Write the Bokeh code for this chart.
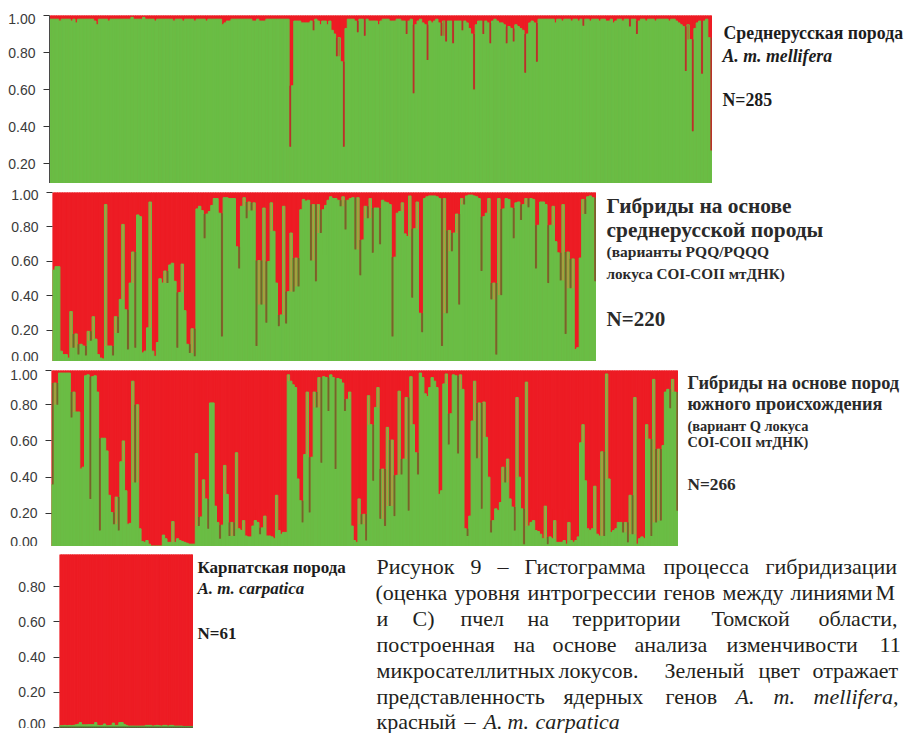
from bokeh.plotting import figure
from bokeh.layouts import column, row
from bokeh.models import Range1d, FixedTicker, NumeralTickFormatter, Span
from bokeh.core.properties import value
from bokeh.embed import file_html
from bokeh.resources import INLINE

RED = "#ed1c24"
GREEN = "#6abd45"

# Green (A. m. mellifera) share per individual
mellifera = [
    .98,.98,.98,.98,.97,.98,.98,.98,.98,.97,
    .98,.96,.98,.98,.98,.98,.98,.98,.98,.97,
    .95,.98,.98,.98,.98,.97,.98,.98,.98,.98,
    .98,.98,.98,.98,.98,.99,.98,.98,.98,.98,
    .99,.98,.98,.98,.98,.97,.98,.98,.98,.98,
    .98,.98,.98,.97,.98,.98,.98,.97,.98,.98,
    .98,.98,.97,.98,.98,.98,.98,.97,.98,.98,
    .98,.98,.98,.98,.95,.96,.97,.97,.98,.98,
    .98,.98,.98,.98,.98,.98,.98,.97,.97,.98,
    .97,.97,.97,.98,.98,.98,.98,.98,.98,.98,
    .98,.98,.98,.29,.62,.97,.97,.97,.96,.96,
    .96,.96,.97,.92,.98,.97,.95,.97,.97,.95,
    .97,.92,.90,.78,.88,.75,.29,.93,.98,.98,
    .98,.97,.91,.98,.98,.89,.98,.97,.97,.97,
    .97,.95,.97,.98,.98,.98,.97,.97,.97,.98,
    .98,.97,.97,.90,.97,.98,.58,.95,.97,.98,
    .96,.95,.76,.97,.96,.97,.98,.96,.89,.97,
    .86,.97,.97,.85,.97,.97,.97,.92,.97,.96,
    .93,.90,.60,.95,.97,.97,.90,.97,.96,.85,
    .97,.98,.97,.96,.96,.95,.85,.94,.93,.86,
    .95,.94,.93,.92,.69,.90,.96,.97,.96,.75,
    .98,.98,.98,.98,.98,.98,.98,.96,.98,.98,
    .97,.98,.98,.98,.97,.98,.98,.97,.98,.945,
    .98,.98,.97,.98,.98,.98,.97,.98,.98,.97,
    .97,.98,.96,.97,.98,.98,.97,.98,.98,.94,
    .98,.98,.90,.97,.98,.98,.97,.98,.98,.98,
    .97,.98,.98,.98,.98,.98,.97,.98,.98,.97,
    .96,.95,.94,.70,.95,.87,.375,.93,.96,.97,
    .685,.97,.98,.88,.27,
]

hybrids_central = [
    .55,.57,.57,.08,.06,.06,.04,.31,.10,.18,
    .06,.12,.11,.055,.195,.14,.28,.15,.06,.04,
    .035,.93,.11,.11,.055,.28,.185,.38,.815,.32,
    .09,.475,.655,.10,.87,.86,.07,.08,.215,.945,
    .08,.05,.13,.50,.475,.545,.475,.58,.59,.485,
    .10,.42,.585,.315,.12,.07,.21,.05,.905,.92,
    .895,.735,.875,.89,.925,.965,.965,.88,.165,.97,
    .97,.965,.965,.965,.685,.56,.92,.97,.85,.945,
    .895,.94,.11,.605,.35,.91,.245,.60,.94,.775,
    .475,.225,.29,.92,.24,.425,.765,.425,.62,.455,
    .90,.96,.95,.955,.605,.93,.485,.93,.765,.90,
    .925,.955,.975,.965,.965,.955,.92,.975,.785,.955,
    .965,.97,.67,.97,.52,.725,.92,.85,.965,.65,
    .91,.91,.70,.955,.945,.94,.93,.165,.625,.88,
    .89,.94,.76,.745,.98,.39,.79,.945,.30,.19,
    .965,.975,.98,.98,.98,.975,.965,.11,.965,.30,
    .78,.66,.765,.875,.35,.965,.93,.98,.985,.985,
    .98,.975,.965,.545,.86,.88,.965,.38,.475,.06,
    .965,.405,.905,.965,.96,.91,.735,.94,.945,.84,
    .93,.965,.915,.965,.96,.56,.81,.945,.945,.93,
    .475,.81,.92,.715,.65,.49,.93,.18,.655,.445,
    .615,.09,.10,.62,.96,.875,.975,.98,.97,.485,
]

hybrids_south = [
    .36,.92,.80,.975,.975,.975,.975,.975,.73,.87,
    .76,.76,.445,.455,.96,.965,.28,.955,.96,.87,
    .105,.615,.615,.545,.30,.205,.14,.29,.105,.485,
    .60,.325,.14,.145,.93,.37,.80,.115,.045,.04,
    .05,.03,.02,.02,.02,.02,.02,.08,.06,.04,
    .04,.155,.04,.06,.05,.045,.04,.035,.03,.03,
    .03,.53,.13,.18,.385,.28,.115,.81,.81,.24,
    .15,.06,.135,.465,.305,.075,.15,.075,.535,.115,
    .105,.16,.075,.07,.07,.13,.16,.15,.085,.12,
    .185,.075,.075,.07,.06,.30,.105,.085,.095,.095,
    .965,.93,.91,.895,.39,.27,.15,.525,.87,.205,
    .51,.87,.785,.95,.48,.955,.95,.765,.965,.95,
    .445,.945,.94,.92,.765,.83,.87,.13,.05,.04,
    .28,.14,.195,.05,.85,.69,.38,.785,.895,.17,
    .445,.13,.675,.24,.605,.185,.41,.875,.415,.50,
    .84,.215,.955,.69,.535,.415,.975,.95,.86,.845,
    .895,.95,.93,.895,.305,.325,.915,.97,.58,.75,
    .965,.96,.53,.965,.885,.115,.075,.185,.71,.93,
    .505,.81,.225,.815,.62,.40,.095,.16,.225,.215,
    .26,.455,.37,.50,.28,.235,.105,.84,.40,.225,
    .03,.925,.13,.15,.16,.105,.10,.085,.06,.24,
    .03,.07,.06,.16,.04,.04,.04,.05,.03,.15,
    .05,.04,.05,.07,.59,.69,.38,.115,.105,.115,
    .35,.085,.075,.54,.075,.97,.39,.095,.105,.115,
    .15,.15,.095,.15,.04,.30,.085,.84,.03,.06,
    .07,.06,.69,.61,.075,.94,.15,.555,.16,.575,
    .87,.885,.78,.94,.87,.215,
]

carpatica = [
    .01,.01,.012,.01,.012,.01,.012,.015,.018,.028,
    .015,.015,.015,.016,.016,.016,.028,.012,.01,.012,
    .02,.01,.01,.012,.025,.012,.012,.028,.028,.018,
    .012,.008,.008,.008,.008,.008,.008,.008,.008,.012,
    .012,.012,.008,.01,.012,.01,.008,.012,.012,.008,
    .012,.012,.008,.008,.008,.008,.006,.006,.006,.006,.006,
]

ticks_p1 = [0.2, 0.4, 0.6, 0.8, 1.0]
ticks_p2 = [0.02, 0.2, 0.4, 0.6, 0.8, 1.0]
ticks_p3 = [0.017, 0.2, 0.4, 0.6, 0.8, 0.989]
ticks_p4 = [0.0, 0.2, 0.4, 0.6, 0.8]
cut_labels = {0.02: "0.00", 0.017: "0.00", 0.989: "1.00"}


def panel(values, page_x, page_top, canvas_top, canvas_bottom, frame_bottom,
          vtop, vbot, ticks, spike_low, spike_high, axis_color=None):
    n = len(values)
    p = figure(width=page_x[1], height=canvas_bottom - canvas_top,
               output_backend="svg", toolbar_location=None,
               x_range=Range1d(0, n), y_range=Range1d(vbot, vtop),
               min_border_left=page_x[0], min_border_right=0,
               min_border_top=page_top - canvas_top,
               min_border_bottom=canvas_bottom - frame_bottom,
               outline_line_color=None, frame_align=False)
    p.grid.visible = False
    p.xaxis.visible = False
    ax = p.yaxis[0]
    ax.ticker = FixedTicker(ticks=ticks)
    ax.formatter = NumeralTickFormatter(format="0.00")
    ax.major_label_overrides = {t: cut_labels[t] for t in ticks if t in cut_labels}
    ax.axis_line_color = axis_color
    ax.major_tick_out = 6
    ax.major_tick_in = 0
    ax.minor_tick_out = 0
    ax.minor_tick_in = 0
    ax.major_tick_line_color = "#333333"
    ax.major_tick_line_width = 1
    ax.major_label_standoff = 8
    ax.major_label_text_font = "Liberation Sans"
    ax.major_label_text_font_size = "14px"
    ax.major_label_text_color = "#3a3a3a"

    xs = [i + 0.5 for i in range(n)]
    p.vbar(x=xs, width=1, bottom=0, top=1, fill_color=RED, line_color=RED, line_width=1.2,
           fill_alpha=1, line_alpha=1)
    p.vbar(x=xs, width=1, bottom=0, top=values, fill_color=GREEN, line_color=GREEN, line_width=1.0,
           fill_alpha=1, line_alpha=1)

    # Single-bar spikes look darker in the source through blending of the colours
    low_x, low_b, low_t, high_x, high_b, high_t = [], [], [], [], [], []
    for i, v in enumerate(values):
        left = values[i - 1] if i > 0 else values[i + 1]
        right = values[i + 1] if i < n - 1 else values[i - 1]
        if v < min(left, right) - 0.03:
            low_x.append(xs[i]); low_b.append(v); low_t.append(min(left, right))
        if v > max(left, right) + 0.03:
            high_x.append(xs[i]); high_b.append(max(left, right)); high_t.append(v)
    if low_x:
        p.vbar(x=low_x, width=0.72, bottom=low_b, top=low_t, fill_color=spike_low, line_color=None)
    if high_x:
        p.vbar(x=high_x, width=0.6, bottom=high_b, top=high_t, fill_color=spike_high, line_color=None)
    return p


def text_area(left, top, bottom):
    t = figure(width=905 - left, height=bottom - top, output_backend="svg", toolbar_location=None,
               x_range=Range1d(left, 905), y_range=Range1d(bottom, top),
               x_axis_type=None, y_axis_type=None, min_border=0,
               outline_line_color=None, frame_align=False)
    t.grid.visible = False
    return t


def put(t, px, py, text, size, style="normal", color="#1c1c1c"):
    t.text(x=[px], y=[py], text=[text], text_font=value("Liberation Serif"),
           text_font_size=value(size), text_font_style=style, text_color=color,
           text_baseline="middle", text_align="left")


# Panel 1
p1 = panel(mellifera, (49, 712), 15, 13, 183, 183, 1.0, 0.092, ticks_p1,
           "#b8322a", "#a07a30", "#4a4a4a")
t1 = text_area(712, 13, 183)
put(t1, 723, 32, "Среднерусская порода", "17.8px", "bold")
put(t1, 722, 55, "A. m. mellifera", "17.8px", "bold italic")
put(t1, 722, 99, "N=285", "17.8px", "bold")

# Panel 2
p2 = panel(hybrids_central, (52, 596), 192, 189, 361, 361, 1.0, 0.02, ticks_p2,
           "#75642a", "#b8953c")
t2 = text_area(596, 189, 361)
put(t2, 606, 205, "Гибриды на основе", "21.4px", "bold", "#2a2a2a")
put(t2, 606, 229, "среднерусской породы", "21.4px", "bold", "#2a2a2a")
put(t2, 606, 251, "(варианты PQQ/PQQQ", "15.5px", "bold", "#2a2a2a")
put(t2, 606, 273, "локуса COI-COII мтДНК)", "15.2px", "bold", "#2a2a2a")
put(t2, 606, 318, "N=220", "21px", "bold", "#2a2a2a")

# Panel 3
p3 = panel(hybrids_south, (51, 678), 370, 369, 546, 546, 0.989, 0.017, ticks_p3,
           "#75642a", "#b8953c")
t3 = text_area(678, 369, 546)
put(t3, 687, 382, "Гибриды на основе пород", "18.4px", "bold", "#2a2a2a")
put(t3, 687, 403, "южного происхождения", "18.3px", "bold", "#2a2a2a")
put(t3, 687, 425, "(вариант Q локуса", "14.4px", "bold", "#2a2a2a")
put(t3, 687, 441, "COI-COII мтДНК)", "14.3px", "bold", "#2a2a2a")
put(t3, 687, 484, "N=266", "17.3px", "bold", "#2a2a2a")

# Panel 4
p4 = panel(carpatica, (59, 193), 554, 554, 728, 727, 0.983, 0.0, ticks_p4,
           "#8a6a2a", "#8a6a2a")
p4.add_layout(Span(location=0, dimension="width", line_color="#222222", line_width=1.5))
t4 = text_area(193, 554, 733)
put(t4, 197, 567, "Карпатская порода", "17px", "bold")
put(t4, 197, 588, "A. m. carpatica", "17px", "bold italic")
put(t4, 197, 633, "N=61", "17px", "bold")

CAP = "#231f20"
caption = [
    (566, [(376, "Рисунок"), (470, "9"), (497, "–"), (524, "Гистограмма"), (663, "процесса"), (765, "гибридизации")]),
    (592, [(375, "(оценка"), (454, "уровня"), (527, "интрогрессии"), (663, "генов"), (722, "между"), (790, "линиями"), (875, "М")]),
    (618, [(376, "и"), (412, "С)"), (460, "пчел"), (527, "на"), (572, "территории"), (711, "Томской"), (818, "области,")]),
    (644, [(376, "построенная"), (513, "на"), (552, "основе"), (634, "анализа"), (726, "изменчивости"), (879, "11")]),
    (670, [(376, "микросателлитных"), (558, "локусов."), (664, "Зеленый"), (758, "цвет"), (812, "отражает")]),
    (696, [(376, "представленность"), (563, "ядерных"), (665, "генов"), (735, "A."), (773, "m."), (813, "mellifera,")]),
    (721, [(376, "красный"), (464, "–"), (483, "A."), (507, "m."), (535, "carpatica")]),
]
italic_words = {"A.", "m.", "mellifera,", "carpatica"}
for line_y, words in caption:
    for word_x, word in words:
        put(t4, word_x, line_y, word, "22px", "italic" if word in italic_words else "normal", CAP)

page = column(
    row(p1, t1, margin=(13, 0, 0, 0), spacing=0),
    row(p2, t2, margin=(6, 0, 0, 0), spacing=0),
    row(p3, t3, margin=(8, 0, 0, 0), spacing=0),
    row(p4, t4, margin=(8, 0, 0, 0), spacing=0),
    spacing=0,
)
open("out.html", "w").write(file_html(page, INLINE))
